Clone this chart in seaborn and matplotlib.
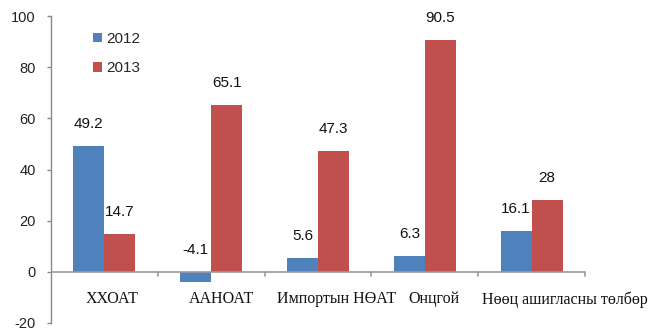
import matplotlib
matplotlib.use("Agg")
import matplotlib.pyplot as plt
import seaborn as sns
import pandas as pd

categories = ["ХХОАТ", "ААНОАТ", "Импортын НӨАТ", "Онцгой", "Нөөц ашигласны төлбөр"]
years = ["2012", "2013"]
values_2012 = [49.2, -4.1, 5.6, 6.3, 16.1]
values_2013 = [14.7, 65.1, 47.3, 90.5, 28]
label_2012 = ["49.2", "-4.1", "5.6", "6.3", "16.1"]
label_2013 = ["14.7", "65.1", "47.3", "90.5", "28"]
colors = ["#4F81BD", "#C0504D"]

# horizontal nudge of each category name, in category widths
name_shift = [0.07, 0.10, 0.17, 0.09, 0.31]

df = pd.DataFrame({
    "category": categories * 2,
    "year": [years[0]] * len(categories) + [years[1]] * len(categories),
    "value": values_2012 + values_2013,
})

sns.set_theme(style="white")
plt.rcParams["font.family"] = ["Liberation Sans", "DejaVu Sans"]
plt.rcParams["axes.unicode_minus"] = False

fig = plt.figure(figsize=(6.49, 3.31), dpi=100)
ax = fig.add_axes([51 / 649, 1 - 323 / 331, (585 - 51) / 649, (323 - 16) / 331])

sns.barplot(data=df, x="category", y="value", hue="year", order=categories,
            hue_order=years, palette=colors, width=0.58, gap=0,
            saturation=1, ax=ax, errorbar=None, edgecolor="none")

ax.set_ylim(-20, 100)
ax.set_xlim(-0.5, len(categories) - 0.5)
ax.set_yticks(range(-20, 101, 20))
ax.tick_params(axis="y", labelsize=10.5, length=3, width=1, color="#888888",
               left=True, pad=8, labelcolor="#222222")
ax.set_xlabel("")
ax.set_ylabel("")
ax.set_xticks([])

for s in ["top", "right", "bottom"]:
    ax.spines[s].set_visible(False)
ax.spines["left"].set_color("#888888")
ax.spines["left"].set_linewidth(1)

# baseline at zero with separators between categories
ax.axhline(0, color="#999999", lw=1.2, zorder=3)
for i in range(1, len(categories) + 1):
    ax.plot([i - 0.5, i - 0.5], [0, -1.6], color="#999999", lw=1.2,
            clip_on=False, zorder=3)

# category names in a serif face below the axis
for i, (c, dx) in enumerate(zip(categories, name_shift)):
    ax.text(i + dx, -10.8, c, ha="center", va="center", fontsize=11.5,
            family=["Liberation Serif", "DejaVu Serif"], color="#111111")

# value labels above each bar (or above zero for negative values)
for bars, labels in zip(ax.containers, [label_2012, label_2013]):
    for bar, lab in zip(bars, labels):
        v = bar.get_height()
        x = bar.get_x() + bar.get_width() / 2
        y = max(v, 0)
        ax.annotate(lab, (x, y), xytext=(0, 22), textcoords="offset pixels",
                    ha="center", va="center", fontsize=11, color="#111111")

leg = ax.legend(loc="upper left", bbox_to_anchor=(0.052, 0.993), frameon=False,
                fontsize=11, handlelength=0.62, handleheight=0.62,
                handletextpad=0.25, labelspacing=1.0)

fig.savefig("out.png", dpi=100)
